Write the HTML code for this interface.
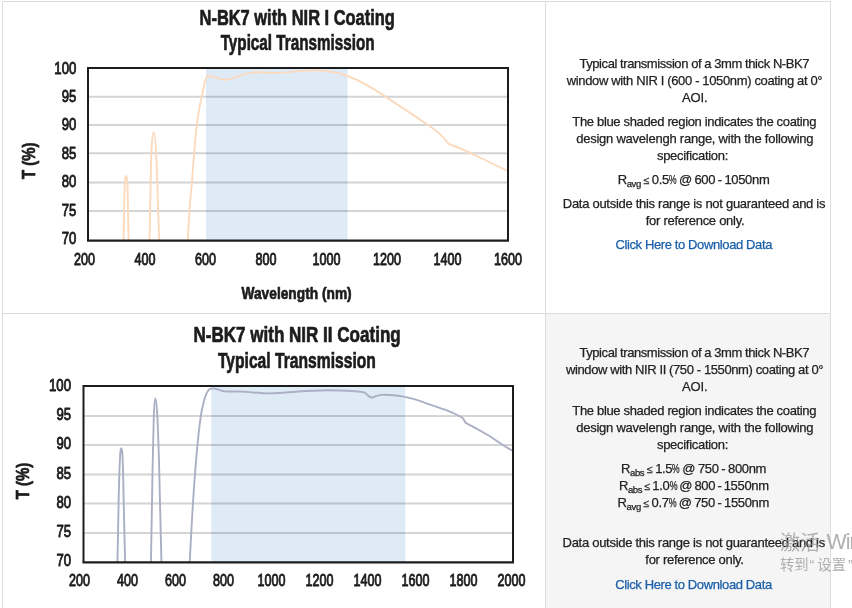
<!DOCTYPE html>
<html lang="en"><head><meta charset="utf-8"><title>N-BK7 NIR Coating Transmission</title>
<style>
html,body{margin:0;padding:0;background:#fff;}
html{overflow:hidden;}
body{width:852px;height:608px;overflow:hidden;}
.page{width:852px;height:608px;position:relative;overflow:hidden;font-family:"Liberation Sans","Noto Sans CJK SC",sans-serif;}
.b{position:absolute;background:#dcdcdc;}
main,section,figure,.desc,p{margin:0;padding:0;display:block;height:0;}
.ln{position:absolute;width:300px;text-align:center;white-space:nowrap;font-size:13px;line-height:17px;height:17px;color:#222;-webkit-text-stroke:0.25px #222;}
.ln a{color:#1b5fa8;text-decoration:none;-webkit-text-stroke:0.25px #1b5fa8;}
.ln sub{font-size:9.5px;vertical-align:baseline;position:relative;top:3px;}
.ln i{font-style:normal;font-size:10.5px;}
.ln b{font-weight:normal;display:inline-block;transform:scaleX(.68);margin:0 -1.9px;}
.r{letter-spacing:-0.3px}
.wm{position:absolute;white-space:nowrap;color:rgba(150,150,150,0.75);font-family:"Liberation Sans","Noto Sans CJK SC",sans-serif;}
</style></head><body>
<div class="page">
<div style="position:absolute;left:546px;top:314px;width:284px;height:294px;background:#f5f5f5"></div>
<div class="b" style="left:2px;top:1px;width:829px;height:1px"></div>
<div class="b" style="left:2px;top:313px;width:829px;height:1px"></div>
<div class="b" style="left:2px;top:1px;width:1px;height:607px"></div>
<div class="b" style="left:545px;top:1px;width:1px;height:607px"></div>
<div class="b" style="left:830px;top:1px;width:1px;height:607px"></div>
<main>
<section class="row">
<figure class="chart"><svg width="545" height="608" viewBox="0 0 545 608" style="position:absolute;left:0;top:0" font-family="'Liberation Sans', sans-serif" fill="#1c1c1c"><line x1="88" x2="508" y1="96.8" y2="96.8" stroke="#d4d4d4" stroke-width="2"/><line x1="88" x2="508" y1="124.9" y2="124.9" stroke="#d4d4d4" stroke-width="2"/><line x1="88" x2="508" y1="153.2" y2="153.2" stroke="#d4d4d4" stroke-width="2"/><line x1="88" x2="508" y1="182.6" y2="182.6" stroke="#d4d4d4" stroke-width="2"/><line x1="88" x2="508" y1="211.0" y2="211.0" stroke="#d4d4d4" stroke-width="2"/><rect x="206" y="68" width="141.5" height="172.6" fill="#deebf7" style="mix-blend-mode:multiply"/><clipPath id="c1"><rect x="88" y="68" width="420" height="172.6"/></clipPath><path d="M123.6,243 C124,215 124.4,192 124.9,181 C125.1,177.5 125.5,176.3 126.1,176.3 C126.7,176.3 127.1,177.5 127.4,181 C127.8,192 128.3,215 128.7,243 M149.5,243 C149.9,215 150.4,190 151,165 C151.3,148 152.3,132.3 153.7,132.3 C155.1,132.3 156,148 156.7,165 C157.5,190 158.4,215 159.3,243 M187.5,243 C189,215 190.5,195 192,181.8 C193.5,160 195,140 197,124 C198.5,112 200,103 202,96 C203.5,88 205,77 207.5,76 C209,75.4 211,76.3 214,77 C218,78 222,80 226,79.8 C231,79.5 236,77.2 241,75.2 C246,73.5 250,72.4 255,72.2 C262,72 270,73.3 279,72.9 C290,72.4 300,70.6 311,70.3 C322,70.2 334,71.5 345,75 C358,79.5 372,87.5 385.5,96.6 C400,106 414,115.6 428.2,125 C435.5,129.8 443,136 448.8,144 C460,148 472,153.5 483,159 C492,163.5 500,167.5 508,171" fill="none" stroke="#fbdabd" stroke-width="1.9" stroke-linejoin="round" clip-path="url(#c1)"/><path d="M88,240.6 V68 H508 V240.6" fill="none" stroke="#1c1c1c" stroke-width="2" stroke-linejoin="miter"/><line x1="87" x2="509" y1="240.6" y2="240.6" stroke="#1c1c1c" stroke-width="2.2"/><text x="297.2" y="25.1" font-size="22" text-anchor="middle" font-weight="bold" textLength="195.3" lengthAdjust="spacingAndGlyphs" stroke="#1c1c1c" stroke-width="0.7" stroke-linejoin="round">N-BK7 with NIR I Coating</text><text x="297.6" y="50.4" font-size="22" text-anchor="middle" font-weight="bold" textLength="153.8" lengthAdjust="spacingAndGlyphs" stroke="#1c1c1c" stroke-width="0.7" stroke-linejoin="round">Typical Transmission</text><text x="76.3" y="73.5" font-size="16.8" text-anchor="end" font-weight="normal" textLength="22" lengthAdjust="spacingAndGlyphs" stroke="#1c1c1c" stroke-width="0.9" stroke-linejoin="round">100</text><text x="76.3" y="101.96499999999999" font-size="16.8" text-anchor="end" font-weight="normal" textLength="14.6" lengthAdjust="spacingAndGlyphs" stroke="#1c1c1c" stroke-width="0.9" stroke-linejoin="round">95</text><text x="76.3" y="130.42999999999998" font-size="16.8" text-anchor="end" font-weight="normal" textLength="14.6" lengthAdjust="spacingAndGlyphs" stroke="#1c1c1c" stroke-width="0.9" stroke-linejoin="round">90</text><text x="76.3" y="158.89499999999998" font-size="16.8" text-anchor="end" font-weight="normal" textLength="14.6" lengthAdjust="spacingAndGlyphs" stroke="#1c1c1c" stroke-width="0.9" stroke-linejoin="round">85</text><text x="76.3" y="187.35999999999996" font-size="16.8" text-anchor="end" font-weight="normal" textLength="14.6" lengthAdjust="spacingAndGlyphs" stroke="#1c1c1c" stroke-width="0.9" stroke-linejoin="round">80</text><text x="76.3" y="215.825" font-size="16.8" text-anchor="end" font-weight="normal" textLength="14.6" lengthAdjust="spacingAndGlyphs" stroke="#1c1c1c" stroke-width="0.9" stroke-linejoin="round">75</text><text x="76.3" y="244.28999999999996" font-size="16.8" text-anchor="end" font-weight="normal" textLength="14.6" lengthAdjust="spacingAndGlyphs" stroke="#1c1c1c" stroke-width="0.9" stroke-linejoin="round">70</text><text x="84.5" y="265.1" font-size="16.8" text-anchor="middle" font-weight="normal" textLength="21.0" lengthAdjust="spacingAndGlyphs" stroke="#1c1c1c" stroke-width="0.9" stroke-linejoin="round">200</text><text x="145.0" y="265.1" font-size="16.8" text-anchor="middle" font-weight="normal" textLength="21.0" lengthAdjust="spacingAndGlyphs" stroke="#1c1c1c" stroke-width="0.9" stroke-linejoin="round">400</text><text x="205.5" y="265.1" font-size="16.8" text-anchor="middle" font-weight="normal" textLength="21.0" lengthAdjust="spacingAndGlyphs" stroke="#1c1c1c" stroke-width="0.9" stroke-linejoin="round">600</text><text x="266.0" y="265.1" font-size="16.8" text-anchor="middle" font-weight="normal" textLength="21.0" lengthAdjust="spacingAndGlyphs" stroke="#1c1c1c" stroke-width="0.9" stroke-linejoin="round">800</text><text x="326.5" y="265.1" font-size="16.8" text-anchor="middle" font-weight="normal" textLength="28.0" lengthAdjust="spacingAndGlyphs" stroke="#1c1c1c" stroke-width="0.9" stroke-linejoin="round">1000</text><text x="387.0" y="265.1" font-size="16.8" text-anchor="middle" font-weight="normal" textLength="28.0" lengthAdjust="spacingAndGlyphs" stroke="#1c1c1c" stroke-width="0.9" stroke-linejoin="round">1200</text><text x="447.5" y="265.1" font-size="16.8" text-anchor="middle" font-weight="normal" textLength="28.0" lengthAdjust="spacingAndGlyphs" stroke="#1c1c1c" stroke-width="0.9" stroke-linejoin="round">1400</text><text x="508.0" y="265.1" font-size="16.8" text-anchor="middle" font-weight="normal" textLength="28.0" lengthAdjust="spacingAndGlyphs" stroke="#1c1c1c" stroke-width="0.9" stroke-linejoin="round">1600</text><text x="296.6" y="299" font-size="17" text-anchor="middle" font-weight="bold" textLength="110.2" lengthAdjust="spacingAndGlyphs" stroke="#1c1c1c" stroke-width="0.7" stroke-linejoin="round">Wavelength (nm)</text><g transform="translate(34.7,160.8) rotate(-90)"><text x="0" y="0" font-size="17.5" text-anchor="middle" font-weight="bold" textLength="36.5" lengthAdjust="spacingAndGlyphs" stroke="#1c1c1c" stroke-width="0.7" stroke-linejoin="round">T (%)</text></g></svg></figure>
<div class="desc"><p><span class="ln" id="l0" style="top:54.8px;left:544.25px;letter-spacing:-0.425px;word-spacing:0.000px">Typical transmission of a 3mm thick N-BK7</span><span class="ln" id="l1" style="top:71.8px;left:544.50px;letter-spacing:-0.356px;word-spacing:0.000px">window with NIR I (600 - 1050nm) coating at 0°</span><span class="ln" id="l2" style="top:88.8px;left:544.75px;letter-spacing:-0.133px;word-spacing:0.000px">AOI.</span></p><p><span class="ln" id="l3" style="top:112.8px;left:544.25px;letter-spacing:-0.340px;word-spacing:0.000px">The blue shaded region indicates the coating</span><span class="ln" id="l4" style="top:129.8px;left:544.75px;letter-spacing:-0.239px;word-spacing:0.000px">design wavelengh range, with the following</span><span class="ln" id="l5" style="top:146.8px;left:542.50px;letter-spacing:-0.292px;word-spacing:0.000px">specification:</span></p><p><span class="ln" id="l6" style="top:171.3px;left:543.50px;letter-spacing:-0.350px;word-spacing:-0.567px">R<sub>avg</sub> <i>≤</i> 0.5<b>%</b> @ 600 - 1050nm</span></p><p><span class="ln" id="l7" style="top:194.8px;left:544.00px;letter-spacing:-0.285px;word-spacing:0.000px">Data outside this range is not guaranteed and is</span><span class="ln" id="l8" style="top:211.8px;left:545.00px;letter-spacing:-0.278px;word-spacing:0.000px">for reference only.</span></p><p><span class="ln" id="l9" style="top:236.0px;left:543.75px;letter-spacing:-0.385px;word-spacing:0.000px"><a href="#">Click Here to Download Data</a></span></p></div>
</section>
<section class="row">
<figure class="chart"><svg width="545" height="608" viewBox="0 0 545 608" style="position:absolute;left:0;top:0" font-family="'Liberation Sans', sans-serif" fill="#1c1c1c"><line x1="83.5" x2="513" y1="415.9" y2="415.9" stroke="#d4d4d4" stroke-width="2"/><line x1="83.5" x2="513" y1="445.1" y2="445.1" stroke="#d4d4d4" stroke-width="2"/><line x1="83.5" x2="513" y1="474.4" y2="474.4" stroke="#d4d4d4" stroke-width="2"/><line x1="83.5" x2="513" y1="503.6" y2="503.6" stroke="#d4d4d4" stroke-width="2"/><line x1="83.5" x2="513" y1="532.9" y2="532.9" stroke="#d4d4d4" stroke-width="2"/><rect x="211.3" y="386" width="194.0" height="176.39999999999998" fill="#deebf7" style="mix-blend-mode:multiply"/><clipPath id="c2"><rect x="83.5" y="386" width="429.5" height="176.39999999999998"/></clipPath><path d="M117.4,565 C117.8,545 118.2,525 118.6,502.8 C119.1,480 119.7,462 120.2,454 C120.5,450 120.8,448.2 121.3,448.2 C121.8,448.2 122.1,450 122.4,454 C122.9,462 123.3,480 123.7,502.8 C124.2,525 124.7,545 125.2,565 M150.9,565 C151.4,535 151.9,505 152.5,473 C152.9,452 153.3,435 153.7,419.7 C154.1,406 154.6,398.4 155.3,398.4 C156,398.4 156.9,406 157.5,419.7 C158.2,435 158.8,452 159.3,473 C160,505 160.8,535 161.5,565 M189.6,565 C191.3,530 193.3,495 195.3,470 C197.3,445 199.2,425 201.5,412 C203.8,400 206.3,392 209,389.6 C211,388.2 213,388 216,388.8 C219,389.8 221,390.8 224,391.2 C230,391.6 236,391.4 242,391.6 C252,392.2 260,393.4 270,393.4 C280,393.4 290,392.2 298,391.5 C308,390.8 318,390.3 326.5,390.2 C336,390.2 345,390.6 355,391.2 C358,391.5 361,391.8 363.9,392.4 C367,393.5 369,397.6 371.5,397.6 C374,397.6 377,395.2 381,394.9 C389,394.4 397,395.5 403.6,396.6 C412,398.2 420,400.8 427.8,403.8 C436,406.8 444,409.2 452,412.5 C456,414.3 459.5,416 462.3,417.7 C464,419 464.5,421.5 465.7,422.8 C474,427 482,431.5 490,436.3 C496,440.3 502.5,445.2 513,451" fill="none" stroke="#abafc4" stroke-width="1.9" stroke-linejoin="round" clip-path="url(#c2)"/><path d="M83.5,562.4 V386 H513 V562.4" fill="none" stroke="#1c1c1c" stroke-width="2" stroke-linejoin="miter"/><line x1="82.5" x2="514" y1="562.4" y2="562.4" stroke="#1c1c1c" stroke-width="2.2"/><text x="297.1" y="342.1" font-size="22" text-anchor="middle" font-weight="bold" textLength="207.2" lengthAdjust="spacingAndGlyphs" stroke="#1c1c1c" stroke-width="0.7" stroke-linejoin="round">N-BK7 with NIR II Coating</text><text x="296.9" y="368.0" font-size="22" text-anchor="middle" font-weight="bold" textLength="158" lengthAdjust="spacingAndGlyphs" stroke="#1c1c1c" stroke-width="0.7" stroke-linejoin="round">Typical Transmission</text><text x="71" y="390.9" font-size="16.8" text-anchor="end" font-weight="normal" textLength="22" lengthAdjust="spacingAndGlyphs" stroke="#1c1c1c" stroke-width="0.9" stroke-linejoin="round">100</text><text x="71" y="420.09999999999997" font-size="16.8" text-anchor="end" font-weight="normal" textLength="14.6" lengthAdjust="spacingAndGlyphs" stroke="#1c1c1c" stroke-width="0.9" stroke-linejoin="round">95</text><text x="71" y="449.29999999999995" font-size="16.8" text-anchor="end" font-weight="normal" textLength="14.6" lengthAdjust="spacingAndGlyphs" stroke="#1c1c1c" stroke-width="0.9" stroke-linejoin="round">90</text><text x="71" y="478.49999999999994" font-size="16.8" text-anchor="end" font-weight="normal" textLength="14.6" lengthAdjust="spacingAndGlyphs" stroke="#1c1c1c" stroke-width="0.9" stroke-linejoin="round">85</text><text x="71" y="507.7" font-size="16.8" text-anchor="end" font-weight="normal" textLength="14.6" lengthAdjust="spacingAndGlyphs" stroke="#1c1c1c" stroke-width="0.9" stroke-linejoin="round">80</text><text x="71" y="536.9000000000001" font-size="16.8" text-anchor="end" font-weight="normal" textLength="14.6" lengthAdjust="spacingAndGlyphs" stroke="#1c1c1c" stroke-width="0.9" stroke-linejoin="round">75</text><text x="71" y="566.1" font-size="16.8" text-anchor="end" font-weight="normal" textLength="14.6" lengthAdjust="spacingAndGlyphs" stroke="#1c1c1c" stroke-width="0.9" stroke-linejoin="round">70</text><text x="79.5" y="586.3" font-size="16.8" text-anchor="middle" font-weight="normal" textLength="21.0" lengthAdjust="spacingAndGlyphs" stroke="#1c1c1c" stroke-width="0.9" stroke-linejoin="round">200</text><text x="127.5" y="586.3" font-size="16.8" text-anchor="middle" font-weight="normal" textLength="21.0" lengthAdjust="spacingAndGlyphs" stroke="#1c1c1c" stroke-width="0.9" stroke-linejoin="round">400</text><text x="175.5" y="586.3" font-size="16.8" text-anchor="middle" font-weight="normal" textLength="21.0" lengthAdjust="spacingAndGlyphs" stroke="#1c1c1c" stroke-width="0.9" stroke-linejoin="round">600</text><text x="223.5" y="586.3" font-size="16.8" text-anchor="middle" font-weight="normal" textLength="21.0" lengthAdjust="spacingAndGlyphs" stroke="#1c1c1c" stroke-width="0.9" stroke-linejoin="round">800</text><text x="271.5" y="586.3" font-size="16.8" text-anchor="middle" font-weight="normal" textLength="28.0" lengthAdjust="spacingAndGlyphs" stroke="#1c1c1c" stroke-width="0.9" stroke-linejoin="round">1000</text><text x="319.5" y="586.3" font-size="16.8" text-anchor="middle" font-weight="normal" textLength="28.0" lengthAdjust="spacingAndGlyphs" stroke="#1c1c1c" stroke-width="0.9" stroke-linejoin="round">1200</text><text x="367.5" y="586.3" font-size="16.8" text-anchor="middle" font-weight="normal" textLength="28.0" lengthAdjust="spacingAndGlyphs" stroke="#1c1c1c" stroke-width="0.9" stroke-linejoin="round">1400</text><text x="415.5" y="586.3" font-size="16.8" text-anchor="middle" font-weight="normal" textLength="28.0" lengthAdjust="spacingAndGlyphs" stroke="#1c1c1c" stroke-width="0.9" stroke-linejoin="round">1600</text><text x="463.5" y="586.3" font-size="16.8" text-anchor="middle" font-weight="normal" textLength="28.0" lengthAdjust="spacingAndGlyphs" stroke="#1c1c1c" stroke-width="0.9" stroke-linejoin="round">1800</text><text x="511.5" y="586.3" font-size="16.8" text-anchor="middle" font-weight="normal" textLength="28.0" lengthAdjust="spacingAndGlyphs" stroke="#1c1c1c" stroke-width="0.9" stroke-linejoin="round">2000</text><g transform="translate(28.8,481) rotate(-90)"><text x="0" y="0" font-size="17.5" text-anchor="middle" font-weight="bold" textLength="36.5" lengthAdjust="spacingAndGlyphs" stroke="#1c1c1c" stroke-width="0.7" stroke-linejoin="round">T (%)</text></g></svg></figure>
<div class="desc"><p><span class="ln" id="l10" style="top:343.8px;left:544.25px;letter-spacing:-0.425px;word-spacing:0.000px">Typical transmission of a 3mm thick N-BK7</span><span class="ln" id="l11" style="top:360.8px;left:544.50px;letter-spacing:-0.391px;word-spacing:0.000px">window with NIR II (750 - 1550nm) coating at 0°</span><span class="ln" id="l12" style="top:377.8px;left:544.75px;letter-spacing:-0.133px;word-spacing:0.000px">AOI.</span></p><p><span class="ln" id="l13" style="top:401.8px;left:544.25px;letter-spacing:-0.340px;word-spacing:0.000px">The blue shaded region indicates the coating</span><span class="ln" id="l14" style="top:418.8px;left:544.75px;letter-spacing:-0.239px;word-spacing:0.000px">design wavelengh range, with the following</span><span class="ln" id="l15" style="top:435.8px;left:542.50px;letter-spacing:-0.292px;word-spacing:0.000px">specification:</span></p><p><span class="ln" id="l16" style="top:460.3px;left:543.50px;letter-spacing:-0.350px;word-spacing:-0.533px">R<sub>abs</sub> <i>≤</i> 1.5<b>%</b> @ 750 - 800nm</span><span class="ln" id="l17" style="top:477.3px;left:543.75px;letter-spacing:-0.350px;word-spacing:-0.900px">R<sub>abs</sub> <i>≤</i> 1.0<b>%</b> @ 800 - 1550nm</span><span class="ln" id="l18" style="top:494.3px;left:543.25px;letter-spacing:-0.350px;word-spacing:-0.633px">R<sub>avg</sub> <i>≤</i> 0.7<b>%</b> @ 750 - 1550nm</span></p><p><span class="ln" id="l19" style="top:533.8px;left:543.75px;letter-spacing:-0.285px;word-spacing:0.000px">Data outside this range is not guaranteed and is</span><span class="ln" id="l20" style="top:550.8px;left:544.50px;letter-spacing:-0.289px;word-spacing:0.000px">for reference only.</span></p><p><span class="ln" id="l21" style="top:575.5px;left:543.50px;letter-spacing:-0.385px;word-spacing:0.000px"><a href="#">Click Here to Download Data</a></span></p></div>
</section>
</main>
<div class="wm" style="left:780px;top:529px;font-size:20px;line-height:28px">激活<span style="font-size:21.5px;margin-left:6.5px;position:relative;top:-1px;letter-spacing:-1px">Windows</span></div>
<div class="wm" style="left:780px;top:556px;font-size:14.3px;line-height:18px">转到<span style="margin:0 3px 0 1px">“</span>设置<span style="margin:0 3px 0 2px">”</span>以激活 Windows。</div>
</div>
</body></html>
